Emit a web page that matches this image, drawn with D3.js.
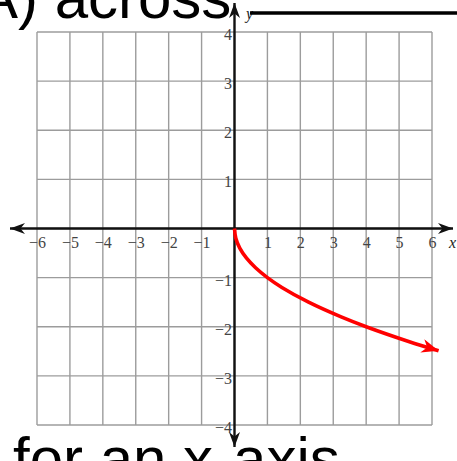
<!DOCTYPE html>
<html>
<head>
<meta charset="utf-8">
<script src="https://cdn.jsdelivr.net/npm/d3@7"></script>
<style>
  html, body { margin: 0; padding: 0; background: #fff; }
  svg { display: block; }
</style>
</head>
<body>
<svg id="chart" width="457" height="461"></svg>
<script>
// Coordinate grid ranges and tick labels
const xTicks = [-6, -5, -4, -3, -2, -1, 1, 2, 3, 4, 5, 6];
const yTicks = [-4, -3, -2, -1, 1, 2, 3, 4];
const xGrid = [-6, -5, -4, -3, -2, -1, 0, 1, 2, 3, 4, 5, 6];
const yGrid = [-4, -3, -2, -1, 0, 1, 2, 3, 4];

// Points along the red curve (x, y)
const curveX = [0, 0.04, 0.16, 0.36, 0.64, 1, 1.44, 2.25, 3.24, 4, 5.29, 6.2];
const curveY = [0, -0.2, -0.4, -0.6, -0.8, -1, -1.2, -1.5, -1.8, -2, -2.3, -2.49];

// Question text around the graph
const topText = "(A) across";
const bottomText = "for an x-axis";

const svg = d3.select("#chart");
const W = 457, H = 461;

const x = d3.scaleLinear().domain([-6, 6]).range([37, 432]);
const y = d3.scaleLinear().domain([-4, 4]).range([425, 32]);

// arrowhead markers
const defs = svg.append("defs");
function arrow(id, color, len, half) {
  defs.append("marker")
    .attr("id", id)
    .attr("viewBox", `0 ${-half} ${len} ${2 * half}`)
    .attr("refX", len).attr("refY", 0)
    .attr("markerUnits", "userSpaceOnUse")
    .attr("markerWidth", len).attr("markerHeight", 2 * half)
    .attr("orient", "auto-start-reverse")
    .append("path")
    .attr("d", `M0,${-half} L${len},0 L0,${half} L${len * 0.3},0 Z`)
    .attr("fill", color);
}
arrow("arrBlack", "#111", 15, 5.5);
arrow("arrRed", "#f00", 17, 7);

// grid
const grid = svg.append("g").attr("stroke", "#9c9c9c").attr("stroke-width", 1.4);
grid.selectAll("line.v").data(xGrid).join("line")
  .attr("class", "v")
  .attr("x1", d => x(d)).attr("x2", d => x(d))
  .attr("y1", y(4)).attr("y2", y(-4));
grid.selectAll("line.h").data(yGrid).join("line")
  .attr("class", "h")
  .attr("y1", d => y(d)).attr("y2", d => y(d))
  .attr("x1", x(-6)).attr("x2", x(6));

// axes with arrows at both ends
svg.append("line")
  .attr("x1", 10).attr("x2", 453)
  .attr("y1", y(0)).attr("y2", y(0))
  .attr("stroke", "#111").attr("stroke-width", 2.4)
  .attr("marker-start", "url(#arrBlack)")
  .attr("marker-end", "url(#arrBlack)");
svg.append("line")
  .attr("x1", x(0)).attr("x2", x(0))
  .attr("y1", 447).attr("y2", 3)
  .attr("stroke", "#111").attr("stroke-width", 2.4)
  .attr("marker-start", "url(#arrBlack)")
  .attr("marker-end", "url(#arrBlack)");

// tick labels
const fmt = d => (d < 0 ? "\u2212" : "") + Math.abs(d);
const xAxis = svg.append("g")
  .attr("transform", `translate(0,${y(0)})`)
  .call(d3.axisBottom(x).tickValues(xTicks).tickSize(0).tickFormat(fmt));
xAxis.select(".domain").remove();
xAxis.selectAll("text")
  .attr("y", 0).attr("dy", 0)
  .attr("transform", "translate(0,19.5)")
  .attr("font-family", "Liberation Serif, Times New Roman, serif")
  .attr("font-size", 16).attr("fill", "#444");

const yAxis = svg.append("g")
  .attr("transform", `translate(${x(0)},0)`)
  .call(d3.axisLeft(y).tickValues(yTicks).tickSize(0).tickPadding(2.5).tickFormat(fmt));
yAxis.select(".domain").remove();
yAxis.selectAll("text")
  .attr("dy", 0)
  .attr("transform", "translate(0,7.5)")
  .attr("font-family", "Liberation Serif, Times New Roman, serif")
  .attr("font-size", 16).attr("fill", "#444");

// axis names
svg.append("text").text("x")
  .attr("x", 449).attr("y", 248)
  .attr("font-family", "Liberation Serif, Times New Roman, serif")
  .attr("font-style", "italic").attr("font-size", 16).attr("fill", "#222");
svg.append("text").text("y")
  .attr("x", 246).attr("y", 19)
  .attr("font-family", "Liberation Serif, Times New Roman, serif")
  .attr("font-style", "italic").attr("font-size", 16).attr("fill", "#222");

// red curve
const pts = curveX.map((d, i) => [d, curveY[i]]);
svg.append("path")
  .datum(pts)
  .attr("d", d3.line().x(d => x(d[0])).y(d => y(d[1])).curve(d3.curveCatmullRom))
  .attr("fill", "none").attr("stroke", "#f00").attr("stroke-width", 3.6)
  .attr("marker-end", "url(#arrRed)");

// surrounding question text
svg.append("text").text(topText)
  .attr("x", -42).attr("y", 18)
  .attr("font-family", "Liberation Sans, Arial, sans-serif")
  .attr("font-size", 60).attr("fill", "#000");
svg.append("line")
  .attr("x1", 250).attr("x2", W)
  .attr("y1", 13).attr("y2", 13)
  .attr("stroke", "#000").attr("stroke-width", 3.5);
svg.append("text").text(bottomText)
  .attr("x", 13).attr("y", 479)
  .attr("font-family", "Liberation Sans, Arial, sans-serif")
  .attr("font-size", 60).attr("fill", "#000");
</script>
</body>
</html>
